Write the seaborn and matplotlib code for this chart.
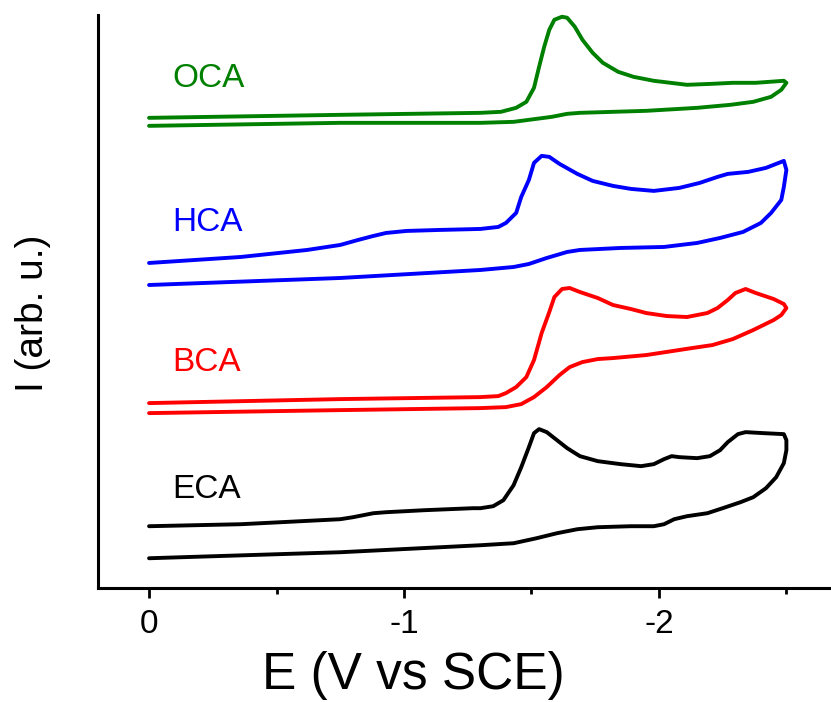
import matplotlib
matplotlib.use("Agg")
import matplotlib.pyplot as plt
import seaborn as sns
import pandas as pd
from matplotlib.ticker import MultipleLocator

sns.set_style("ticks")
plt.rcParams["font.family"] = ["Liberation Sans", "DejaVu Sans"]
plt.rcParams.update({"text.color": "black", "axes.labelcolor": "black",
                     "xtick.color": "black", "ytick.color": "black",
                     "axes.edgecolor": "black"})

# Cyclic voltammograms: cathodic sweep (0 -> -2.5 V) then return sweep (-2.5 -> 0 V).
# Currents are in arbitrary units, each curve already offset vertically.
eca_E = [0.00, -0.36, -0.75, -0.80, -0.88, -0.93, -1.08, -1.27, -1.30, -1.35, -1.39, -1.43,
         -1.46, -1.49, -1.51, -1.53, -1.56, -1.60, -1.64, -1.69, -1.76, -1.85, -1.93,
         -1.98, -2.02, -2.05, -2.08, -2.15, -2.20, -2.24, -2.27, -2.31, -2.34, -2.41,
         -2.49, -2.50,
         -2.50, -2.49, -2.46, -2.42, -2.37, -2.32, -2.25, -2.19, -2.11, -2.06, -2.02,
         -1.98, -1.89, -1.76, -1.68, -1.60, -1.52, -1.43, -1.30, -0.75, 0.00]
eca_I = [62, 64, 69, 71, 75, 76, 78, 80, 80, 82, 88, 103,
         121, 141, 155, 159, 156, 148, 140, 132, 127, 124, 122,
         124, 129, 132, 131, 130, 132, 138, 146, 154, 156, 155,
         154, 148,
         138, 125, 111, 100, 91, 86, 80, 75, 72, 69, 64,
         62, 62, 61, 59, 55, 50, 45, 43, 36, 30]

bca_E = [0.00, -0.75, -1.30, -1.37, -1.40, -1.44, -1.48, -1.51, -1.54, -1.57, -1.59, -1.62,
         -1.65, -1.69, -1.76, -1.82, -1.89, -1.95, -2.03, -2.11, -2.19, -2.23, -2.27,
         -2.30, -2.34, -2.38, -2.45, -2.49, -2.50,
         -2.48, -2.45, -2.37, -2.29, -2.21, -2.13, -1.95, -1.82, -1.76, -1.70, -1.65,
         -1.61, -1.56, -1.51, -1.46, -1.40, -1.30, -0.75, 0.00]
bca_I = [185, 189, 191, 192, 195, 201, 211, 228, 255, 276, 291, 299,
         300, 296, 290, 283, 279, 275, 272, 271, 275, 280, 288,
         295, 299, 295, 289, 284, 280,
         273, 268, 258, 249, 243, 240, 233, 230, 229, 226, 221,
         213, 201, 191, 184, 181, 180, 178, 175]

hca_E = [0.00, -0.36, -0.62, -0.75, -0.82, -0.88, -0.93, -1.01, -1.14, -1.30, -1.37, -1.40,
         -1.44, -1.46, -1.49, -1.51, -1.54, -1.57, -1.61, -1.68, -1.74, -1.82, -1.89,
         -1.98, -2.08, -2.16, -2.23, -2.27, -2.35, -2.42, -2.49, -2.50,
         -2.49, -2.48, -2.44, -2.40, -2.33, -2.24, -2.15, -2.02, -1.85, -1.69, -1.64,
         -1.56, -1.49, -1.43, -1.30, -0.75, 0.00]
hca_I = [325, 331, 338, 343, 348, 352, 355, 357, 358, 359, 361, 365,
         375, 391, 408, 425, 432, 431, 424, 414, 407, 402, 399,
         397, 400, 405, 411, 414, 416, 420, 427, 418,
         401, 388, 375, 365, 356, 350, 345, 341, 340, 338, 336,
         330, 324, 321, 318, 310, 303]

oca_E = [0.00, -0.75, -1.30, -1.38, -1.44, -1.48, -1.51, -1.53, -1.55, -1.57, -1.59, -1.62,
         -1.64, -1.67, -1.70, -1.74, -1.78, -1.84, -1.90, -1.98, -2.11, -2.21, -2.29,
         -2.38, -2.49, -2.50,
         -2.48, -2.44, -2.37, -2.28, -2.15, -1.95, -1.69, -1.64, -1.58, -1.52, -1.43,
         -1.30, -0.75, 0.00]
oca_I = [470, 473, 475, 476, 480, 486, 500, 521, 541, 558, 568, 571,
         570, 561, 548, 535, 525, 516, 511, 507, 503, 504, 505,
         505, 507, 505,
         498, 491, 486, 483, 480, 477, 475, 474, 471, 469, 466,
         465, 465, 462]

names = ["ECA", "BCA", "HCA", "OCA"]
colors = ["#000000", "#ff0000", "#0000ff", "#008000"]
label_E = [-0.09, -0.09, -0.09, -0.09]
label_I = [99, 226, 365, 509]

curves = {"ECA": (eca_E, eca_I), "BCA": (bca_E, bca_I),
          "HCA": (hca_E, hca_I), "OCA": (oca_E, oca_I)}

fig = plt.figure(figsize=(8.31, 7.02), dpi=100)
ax = fig.add_axes([0.118, 0.162, 0.882, 0.817])

for name, color, lx, ly in zip(names, colors, label_E, label_I):
    E, I = curves[name]
    df = pd.DataFrame({"E": E, "I": I})
    sns.lineplot(data=df, x="E", y="I", sort=False, estimator=None,
                 color=color, lw=2.8, ax=ax)
    ax.text(lx, ly, name, color=color, fontsize=24, ha="left", va="center")

for line in ax.lines:
    line.set_clip_on(False)
    line.set_solid_joinstyle("round")
    line.set_solid_capstyle("round")

ax.set_xlim(0.2, -2.675)
ax.set_ylim(0, 573)
ax.xaxis.set_major_locator(MultipleLocator(1))
ax.xaxis.set_minor_locator(MultipleLocator(0.5))
ax.set_xticks([0, -1, -2])
ax.set_xticklabels(["0", "-1", "-2"])
ax.set_yticks([])
ax.tick_params(axis="x", which="major", length=7, width=2, labelsize=24, pad=8)
ax.tick_params(axis="x", which="minor", length=4, width=2)

sns.despine(ax=ax)
for s in ("left", "bottom"):
    ax.spines[s].set_linewidth(2.2)

ax.set_xlabel("E (V vs SCE)", fontsize=37)
ax.xaxis.set_label_coords(0.43, -0.152)
ax.xaxis.label.set_va("center")
ax.set_ylabel("I (arb. u.)", fontsize=28)
ax.yaxis.set_label_coords(-0.089, 0.48)
ax.yaxis.label.set_va("center")

fig.savefig("out.png", dpi=100)
